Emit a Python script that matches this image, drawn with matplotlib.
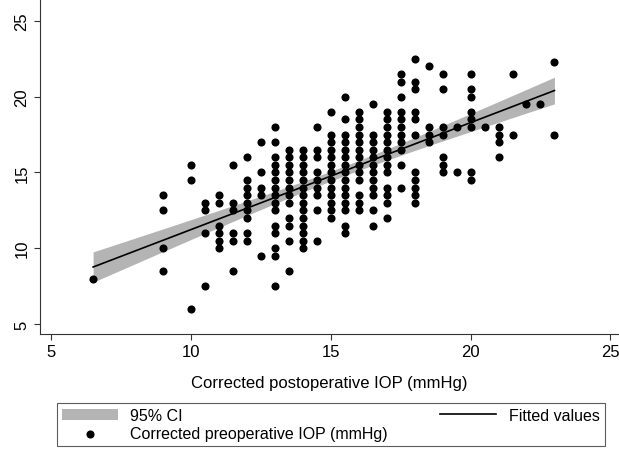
import matplotlib
matplotlib.use("Agg")
import matplotlib.pyplot as plt
import numpy as np

plt.rcParams['font.family'] = ['Liberation Sans', 'DejaVu Sans']

# postoperative IOP (x) -> list of preoperative IOP values (y)
columns = {
    6.5: [8],
    9.0: [13.5, 12.5, 10, 8.5],
    10.0: [15.5, 14.5, 6],
    10.5: [13, 12.5, 11, 7.5],
    11.0: [13.5, 13, 11.5, 11, 10.5, 10],
    11.5: [15.5, 13, 12.5, 11, 10.5, 8.5],
    12.0: [16, 14.5, 14, 13.5, 13, 12.5, 12, 11, 10.5],
    12.5: [17, 15, 14, 13.5, 9.5],
    13.0: [18, 17, 16, 15.5, 15, 14.5, 14, 13.5, 13, 12.5, 11.5, 11, 10, 9.5, 7.5],
    13.5: [16.5, 16, 15.5, 15, 14.5, 14, 13.5, 13, 12, 11.5, 10.5, 8.5],
    14.0: [16.5, 16, 15.5, 15, 14.5, 14, 13.5, 13, 12.5, 12, 11.5, 11, 10.5, 10],
    14.5: [18, 16.5, 16, 15, 14.5, 14, 13.5, 12.5, 10.5],
    15.0: [19, 17.5, 17, 16.5, 16, 15.5, 15, 14.5, 14, 13.5, 13, 12.5, 12],
    15.5: [20, 18.5, 17.5, 17, 16.5, 16, 15.5, 15, 14.5, 14, 13.5, 13, 12.5, 11.5, 11],
    16.0: [19, 18.5, 18, 17.5, 17, 16.5, 16, 15.5, 15, 14.5, 13.5, 13, 12.5],
    16.5: [19.5, 17.5, 17, 16.5, 16, 15.5, 15, 14.5, 14, 13.5, 12.5, 11.5],
    17.0: [19, 18.5, 18, 17.5, 17, 16.5, 16, 15.5, 15, 14, 13.5, 13, 12],
    17.5: [21.5, 21, 20, 19, 18.5, 18, 17.5, 17, 16.5, 15.5, 14],
    18.0: [22.5, 21, 20.5, 19, 18.5, 17.5, 15, 14.5, 14, 13.5, 13],
    18.5: [22, 18, 17.5, 17],
    19.0: [21.5, 20.5, 18, 17.5, 16, 15.5, 15],
    19.5: [18, 15],
    20.0: [21.5, 20.5, 20, 19, 18.5, 18, 15, 14.5],
    20.5: [18],
    21.0: [18, 17.5, 17, 16],
    21.5: [21.5, 17.5],
    22.0: [19.5],
    22.5: [19.5],
    23.0: [22.3, 17.5],
}

post = []
pre = []
for k, vals in columns.items():
    for v in vals:
        post.append(k)
        pre.append(v)
post = np.array(post)
pre = np.array(pre)

# linear fit with 95% CI of the mean (like Stata lfitci)
n = len(post)
b, a = np.polyfit(post, pre, 1)
resid = pre - (a + b * post)
s = np.sqrt(np.sum(resid ** 2) / (n - 2))
xm = post.mean()
sxx = np.sum((post - xm) ** 2)
xs = np.linspace(post.min(), post.max(), 100)
fit = a + b * xs
se = s * np.sqrt(1.0 / n + (xs - xm) ** 2 / sxx)
t = 1.968
lo = fit - t * se
hi = fit + t * se

fig = plt.figure(figsize=(6.19, 4.56), dpi=100)
ax = fig.add_axes([0.0646, 0.2654, 0.935, 0.7346])

ci = ax.fill_between(xs, lo, hi, color='#b4b4b4', lw=0, label='95% CI')
sc = ax.scatter(post, pre, s=34, color='black', lw=0, zorder=3,
                label='Corrected preoperative IOP (mmHg)')
ln, = ax.plot(xs, fit, color='black', lw=1.2, zorder=4, label='Fitted values')

ax.set_xlim(4.6, 25.3)
ax.set_ylim(4.34, 26.45)
ax.set_xticks([5, 10, 15, 20, 25])
ax.set_yticks([5, 10, 15, 20, 25])
ax.tick_params(axis='both', labelsize=12, length=4, color='#333333', direction='out')
for lbl in ax.get_yticklabels():
    lbl.set_rotation(90)
    lbl.set_va('center')
ax.spines['top'].set_visible(False)
ax.spines['right'].set_visible(False)
ax.spines['left'].set_color('#333333')
ax.spines['bottom'].set_color('#333333')
ax.set_xlabel('Corrected postoperative IOP (mmHg)', fontsize=12, labelpad=11)

leg = fig.legend([ci, sc, ln],
                 ['95% CI', 'Corrected preoperative IOP (mmHg)', 'Fitted values'],
                 loc='lower left', bbox_to_anchor=(0.092, 0.02, 0.885, 0.099),
                 mode='expand', ncol=2, fontsize=11.5, frameon=True, fancybox=False,
                 edgecolor='#333333', handlelength=3.5, borderaxespad=0,
                 labelspacing=0.2, borderpad=0.3)
leg.get_frame().set_linewidth(0.8)

fig.savefig('out.png', dpi=100)
